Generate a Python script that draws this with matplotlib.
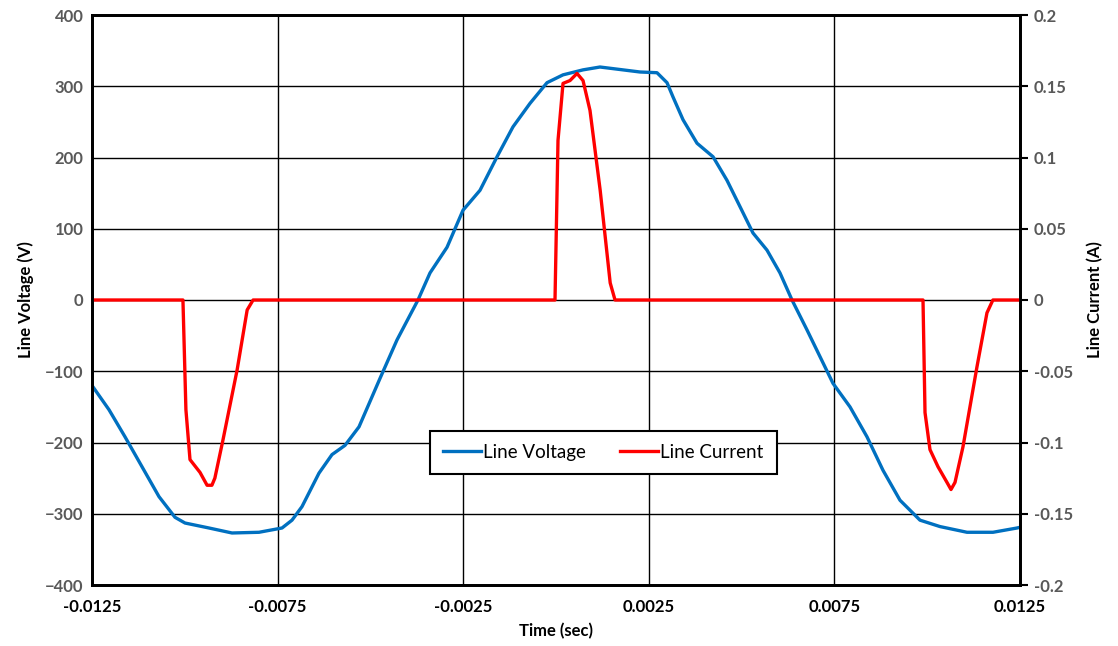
import matplotlib

matplotlib.use("Agg")

import matplotlib.pyplot as plt  # noqa: E402

plt.rcParams["font.family"] = ["Lato", "DejaVu Sans"]

# Line voltage trace (time in s, volts)
volt_t = [-0.0125, -0.012042, -0.011611, -0.011153, -0.010695, -0.010264,
          -0.009995, -0.009348, -0.008728, -0.008001, -0.007381, -0.007112,
          -0.006843, -0.006385, -0.006035, -0.005684, -0.005307, -0.004741,
          -0.004283, -0.003718, -0.003394, -0.002936, -0.002505, -0.002047,
          -0.001589, -0.001159, -0.000700, -0.000242, 0.000189, 0.000728,
          0.001185, 0.002263, 0.002721, 0.002991, 0.003152, 0.003422,
          0.003799, 0.004231, 0.004606, 0.004957, 0.005307, 0.005684,
          0.006034, 0.006358, 0.006762, 0.007462, 0.007920, 0.008378,
          0.008809, 0.009267, 0.009806, 0.010345, 0.011072, 0.011773,
          0.012419, 0.0125]
volt_v = [-120, -154, -192, -234, -276, -305,
          -313, -320, -327, -326, -320, -309,
          -290, -243, -217, -204, -178, -110,
          -56, 0, 38, 74, 126, 154,
          201, 243, 276, 305, 316, 323,
          327, 320, 319, 305, 285, 253,
          220, 201, 168, 131, 94, 70,
          38, 0, -42, -117, -150, -192,
          -239, -281, -309, -318, -326, -326,
          -320, -319]

# Line current trace (time in s, amps)
curr_t = [-0.0125, -0.01005, -0.00997, -0.00986, -0.00959, -0.00940,
          -0.00927, -0.00919, -0.00897, -0.00859, -0.00832, -0.00816,
          -0.000027, 0.000054, 0.000189, 0.000377, 0.000566, 0.000728,
          0.000916, 0.00119, 0.00146, 0.00159,
          0.009887, 0.009941, 0.010075, 0.010291, 0.010533, 0.010641,
          0.010749, 0.010964, 0.01134, 0.01161, 0.01177, 0.0125]
curr_a = [0.0, 0.0, -0.077, -0.112, -0.121, -0.130,
          -0.130, -0.125, -0.098, -0.049, -0.007, 0.0,
          0.0, 0.112, 0.152, 0.154, 0.159, 0.154,
          0.133, 0.077, 0.012, 0.0,
          0.0, -0.079, -0.105, -0.117, -0.128, -0.133,
          -0.128, -0.103, -0.047, -0.009, 0.0, 0.0]

x_ticks = [-0.0125, -0.0075, -0.0025, 0.0025, 0.0075, 0.0125]
x_labels = ["-0.0125", "-0.0075", "-0.0025", "0.0025", "0.0075", "0.0125"]
v_ticks = [-400, -300, -200, -100, 0, 100, 200, 300, 400]
a_ticks = [-0.2, -0.15, -0.1, -0.05, 0, 0.05, 0.1, 0.15, 0.2]
a_labels = ["-0.2", "-0.15", "-0.1", "-0.05", "0", "0.05", "0.1", "0.15", "0.2"]

fig = plt.figure(figsize=(11.18, 6.46), dpi=100)
ax = fig.add_axes([92 / 1118, 1 - 585 / 646, 928 / 1118, 570 / 646])
ax2 = ax.twinx()

lv, = ax.plot(volt_t, volt_v, color="#0070C0", lw=2.4, label="Line Voltage")
lc, = ax2.plot(curr_t, curr_a, color="#FF0000", lw=2.4, label="Line Current")

ax.set_xlim(-0.0125, 0.0125)
ax.set_ylim(-400, 400)
ax2.set_ylim(-0.2, 0.2)

ax.set_xticks(x_ticks)
ax.set_xticklabels(x_labels)
ax.set_yticks(v_ticks)
ax2.set_yticks(a_ticks)
ax2.set_yticklabels(a_labels)

ax.grid(True, color="black", lw=1)
ax.tick_params(axis="x", length=0, pad=10, labelsize=12, labelcolor="black")
ax.tick_params(axis="y", length=0, pad=6, labelsize=12, labelcolor="#595959")
ax2.tick_params(axis="y", length=6, width=1.5, pad=4, labelsize=12,
                labelcolor="#595959")
for lab in ax.get_xticklabels() + ax.get_yticklabels() + ax2.get_yticklabels():
    lab.set_fontweight("bold")

for a in (ax, ax2):
    for s in a.spines.values():
        s.set_linewidth(2)
        s.set_color("black")

ax.set_xlabel("Time (sec)", fontsize=12, fontweight="bold", labelpad=6)
ax.set_ylabel("Line Voltage (V)", fontsize=12, fontweight="bold", labelpad=8)
ax2.set_ylabel("Line Current (A)", fontsize=12, fontweight="bold", labelpad=10)

leg = ax2.legend(handles=[lv, lc], loc="center", bbox_to_anchor=(0.551, 0.233),
                 ncol=2, frameon=True, fancybox=False, fontsize=13.5,
                 handlelength=2.0, handletextpad=0.15, columnspacing=1.8,
                 borderpad=0.7, framealpha=1)
leg.get_frame().set_edgecolor("black")
leg.get_frame().set_linewidth(1.5)

fig.savefig("out.png", dpi=100)
